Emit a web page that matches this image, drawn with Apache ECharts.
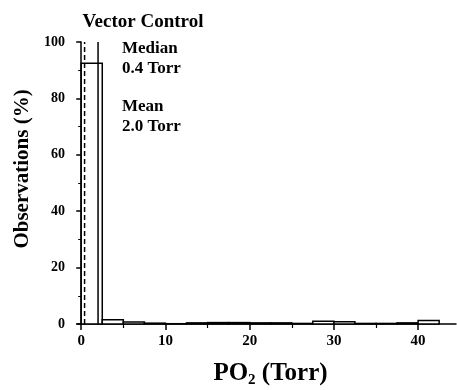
<!DOCTYPE html>
<html>
<head>
<meta charset="utf-8">
<script src="https://cdn.jsdelivr.net/npm/echarts@6/dist/echarts.min.js"></script>
<style>
    html, body { margin: 0; padding: 0; background: #fff; }
    #Hist { width: 457px; height: 390px; }
</style>
</head>
<body>
<div id="Hist"></div>
<script>
// 直方图数据 (bin 宽 2.5 Torr)
var binStart = [0, 2.5, 5, 7.5, 10, 12.5, 15, 17.5, 20, 22.5, 25, 27.5, 30, 32.5, 35, 37.5, 40];
var observations = [92.5, 1.5, 0.7, 0.3, 0.1, 0.4, 0.5, 0.5, 0.4, 0.4, 0.2, 1.0, 0.8, 0.2, 0.2, 0.4, 1.2];
var binWidth = 2.5;
var xMajorTicks = [0, 10, 20, 30, 40];
var xMinorTicks = [5, 15, 25, 35];
var medianPO2 = 0.4;
var meanPO2 = 2.0;

var serif = 'Liberation Serif';

function HistChart() {
    var myChart = echarts.init(document.getElementById('Hist'));

    var barData = [];
    for (var i = 0; i < binStart.length; i++) {
        barData.push([binStart[i], binStart[i] + binWidth, observations[i]]);
    }

    var option = {
        animation: false,
        title: {
            text: 'Vector Control',
            left: 138,
            top: 8,
            textAlign: 'center',
            textStyle: { fontFamily: serif, fontWeight: 'bold', fontSize: 19, color: '#000' }
        },
        grid: { left: 77, right: 1, top: 42, bottom: 66, outerBoundsMode: 'none' },
        xAxis: [{
            type: 'value',
            min: -0.5,
            max: 44.5,
            name: 'PO{sub|2} (Torr)',
            nameLocation: 'middle',
            nameGap: 36,
            nameTextStyle: {
                fontFamily: serif, fontWeight: 'bold', fontSize: 25, color: '#000',
                padding: [0, 0, 0, 8],
                rich: {
                    sub: { fontFamily: serif, fontWeight: 'bold', fontSize: 15, color: '#000', padding: [13, 0, 0, 0] }
                }
            },
            axisLine: { show: true, onZero: false, lineStyle: { color: '#000', width: 1.5 } },
            axisTick: { show: true, length: 6, customValues: xMajorTicks, lineStyle: { color: '#000', width: 1.5 } },
            axisLabel: {
                customValues: xMajorTicks, margin: 10,
                fontFamily: serif, fontWeight: 'bold', fontSize: 15, color: '#000'
            },
            splitLine: { show: false }
        }, {
            type: 'value',
            position: 'bottom',
            min: -0.5,
            max: 44.5,
            axisLine: { show: false },
            axisTick: { show: true, length: 4, customValues: xMinorTicks, lineStyle: { color: '#000', width: 1.2 } },
            axisLabel: { show: false },
            splitLine: { show: false }
        }],
        yAxis: {
            type: 'value',
            min: 0,
            max: 100,
            interval: 20,
            name: 'Observations (%)',
            nameLocation: 'middle',
            nameGap: 42,
            nameTextStyle: {
                fontFamily: serif, fontWeight: 'bold', fontSize: 21, color: '#000',
                padding: [0, 0, 0, 28]
            },
            axisLine: { show: true, lineStyle: { color: '#000', width: 1.5 } },
            axisTick: { show: true, length: 5, lineStyle: { color: '#000', width: 1.5 } },
            minorTick: { show: true, splitNumber: 2, length: 3, lineStyle: { color: '#000', width: 1 } },
            axisLabel: { margin: 12, fontFamily: serif, fontWeight: 'bold', fontSize: 14, color: '#000' },
            splitLine: { show: false }
        },
        series: [{
            type: 'custom',
            name: 'Observations',
            data: barData,
            encode: { x: [0, 1], y: 2 },
            renderItem: function (params, api) {
                var p0 = api.coord([api.value(0), api.value(2)]);
                var p1 = api.coord([api.value(1), 0]);
                return {
                    type: 'rect',
                    shape: { x: p0[0], y: p0[1], width: p1[0] - p0[0], height: p1[1] - p0[1] },
                    style: { fill: '#fff', stroke: '#000', lineWidth: 1.5 }
                };
            },
            z: 2
        }, {
            type: 'line',
            name: 'Median',
            data: [[medianPO2, 0], [medianPO2, 100]],
            symbol: 'none',
            lineStyle: { color: '#000', width: 1.5, type: [5, 3] },
            z: 3
        }, {
            type: 'line',
            name: 'Mean',
            data: [[meanPO2, 0], [meanPO2, 100]],
            symbol: 'none',
            lineStyle: { color: '#000', width: 1.5 },
            z: 3
        }],
        graphic: [{
            type: 'text',
            left: 122,
            top: 39,
            style: {
                text: 'Median\n0.4 Torr',
                font: 'bold 17px "Liberation Serif"',
                lineHeight: 20,
                fill: '#000'
            }
        }, {
            type: 'text',
            left: 122,
            top: 97,
            style: {
                text: 'Mean\n2.0 Torr',
                font: 'bold 17px "Liberation Serif"',
                lineHeight: 20,
                fill: '#000'
            }
        }]
    };
    myChart.setOption(option);
}
HistChart();
</script>
</body>
</html>
